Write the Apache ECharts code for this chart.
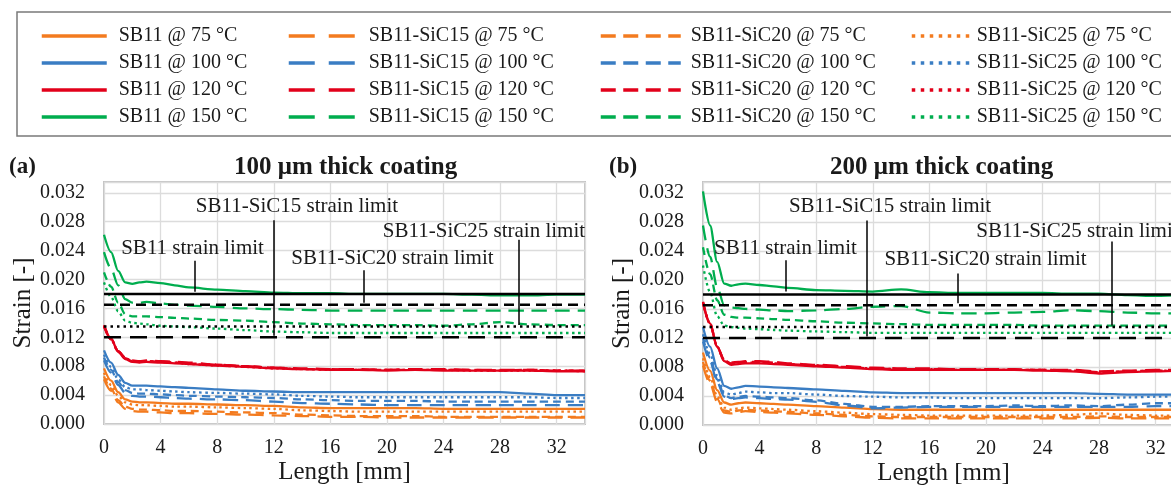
<!DOCTYPE html>
<html>
<head>
<meta charset="utf-8">
<script src="https://cdn.jsdelivr.net/npm/echarts@6/dist/echarts.min.js"></script>
<style>
  html, body { margin: 0; padding: 0; background: #fff; overflow: hidden; width: 1171px; height: 488px; }
  #chart { width: 1200px; height: 488px; }
</style>
</head>
<body>
<div id="chart"></div>
<script>
// Sampling positions along the coating length [mm]
const lengthsMm = [0, 0.5, 1, 1.5, 2, 2.5, 3, 4, 5, 6, 8, 10, 12, 14, 16, 18, 20, 22, 24, 26, 28, 30, 32, 34];

const temps = ['75 °C', '100 °C', '120 °C', '150 °C'];
const materials = ['SB11', 'SB11-SiC15', 'SB11-SiC20', 'SB11-SiC25'];

// Strain limits per material [-]
const limitValues = [0.018, 0.012, 0.0165, 0.0135];

// (a) 100 µm thick coating — strain [-]
const a_SB11_75  = [0.0077,0.0060,0.0044,0.0034,0.0031,0.0030,0.0030,0.0029,0.0028,0.0028,0.0027,0.0026,0.0025,0.0023,0.0022,0.0022,0.0022,0.0022,0.0021,0.0021,0.0021,0.0021,0.0021,0.0021];
const a_SB11_100 = [0.0102,0.0085,0.0068,0.0057,0.0053,0.0053,0.0053,0.0052,0.0051,0.0050,0.0048,0.0046,0.0045,0.0044,0.0044,0.0044,0.0044,0.0044,0.0044,0.0044,0.0044,0.0042,0.0040,0.0040];
const a_SB11_120 = [0.0137,0.0118,0.0100,0.0090,0.0086,0.0085,0.0086,0.0085,0.0084,0.0083,0.0081,0.0079,0.0077,0.0076,0.0075,0.0075,0.0074,0.0075,0.0074,0.0074,0.0074,0.0074,0.0073,0.0073];
const a_SB11_150 = [0.0262,0.0238,0.0212,0.0196,0.0194,0.0196,0.0197,0.0195,0.0192,0.0189,0.0186,0.0184,0.0182,0.0181,0.0181,0.0180,0.0180,0.0180,0.0180,0.0179,0.0178,0.0178,0.0179,0.0179];

const a_SiC15_75  = [0.0062,0.0046,0.0030,0.0021,0.0018,0.0017,0.0017,0.0016,0.0015,0.0015,0.0014,0.0013,0.0012,0.0011,0.0010,0.0010,0.0009,0.0009,0.0009,0.0009,0.0009,0.0009,0.0009,0.0009];
const a_SiC15_100 = [0.0088,0.0071,0.0054,0.0043,0.0039,0.0038,0.0038,0.0037,0.0036,0.0035,0.0034,0.0033,0.0031,0.0029,0.0028,0.0027,0.0026,0.0026,0.0026,0.0026,0.0026,0.0026,0.0026,0.0026];
const a_SiC15_120 = [0.0135,0.0117,0.0101,0.0092,0.0088,0.0087,0.0088,0.0087,0.0086,0.0085,0.0082,0.0080,0.0078,0.0077,0.0076,0.0076,0.0075,0.0076,0.0076,0.0075,0.0075,0.0075,0.0074,0.0074];
const a_SiC15_150 = [0.0238,0.0215,0.0192,0.0173,0.0168,0.0168,0.0169,0.0167,0.0165,0.0164,0.0162,0.0160,0.0159,0.0158,0.0157,0.0157,0.0157,0.0157,0.0157,0.0157,0.0157,0.0157,0.0157,0.0157];

const a_SiC20_75  = [0.0066,0.0049,0.0033,0.0024,0.0021,0.0020,0.0020,0.0019,0.0018,0.0018,0.0017,0.0016,0.0015,0.0013,0.0012,0.0011,0.0011,0.0011,0.0010,0.0010,0.0010,0.0010,0.0010,0.0010];
const a_SiC20_100 = [0.0092,0.0075,0.0058,0.0047,0.0043,0.0042,0.0042,0.0041,0.0040,0.0039,0.0038,0.0037,0.0036,0.0034,0.0033,0.0032,0.0032,0.0032,0.0031,0.0031,0.0031,0.0031,0.0031,0.0031];
const a_SiC20_120 = [0.0136,0.0118,0.0101,0.0091,0.0087,0.0086,0.0087,0.0086,0.0085,0.0084,0.0082,0.0080,0.0078,0.0076,0.0076,0.0075,0.0075,0.0075,0.0075,0.0075,0.0074,0.0075,0.0074,0.0074];
const a_SiC20_150 = [0.0210,0.0190,0.0168,0.0152,0.0149,0.0149,0.0149,0.0148,0.0147,0.0146,0.0144,0.0143,0.0141,0.0139,0.0138,0.0137,0.0137,0.0137,0.0136,0.0138,0.0141,0.0138,0.0137,0.0137];

const a_SiC25_75  = [0.0071,0.0054,0.0039,0.0030,0.0027,0.0026,0.0026,0.0025,0.0024,0.0024,0.0023,0.0022,0.0021,0.0019,0.0018,0.0017,0.0017,0.0017,0.0017,0.0017,0.0017,0.0017,0.0017,0.0017];
const a_SiC25_100 = [0.0096,0.0079,0.0062,0.0051,0.0048,0.0048,0.0047,0.0046,0.0045,0.0044,0.0043,0.0042,0.0041,0.0039,0.0038,0.0037,0.0037,0.0037,0.0037,0.0037,0.0037,0.0037,0.0036,0.0036];
const a_SiC25_120 = [0.0136,0.0117,0.0100,0.0091,0.0087,0.0086,0.0087,0.0086,0.0085,0.0083,0.0081,0.0079,0.0077,0.0076,0.0075,0.0075,0.0075,0.0075,0.0075,0.0074,0.0074,0.0074,0.0074,0.0073];
const a_SiC25_150 = [0.0196,0.0176,0.0156,0.0143,0.0140,0.0139,0.0138,0.0136,0.0135,0.0134,0.0132,0.0130,0.0128,0.0127,0.0126,0.0126,0.0126,0.0126,0.0126,0.0126,0.0126,0.0126,0.0126,0.0126];

// (b) 200 µm thick coating — strain [-]
const b_SB11_75  = [0.0100,0.0075,0.0048,0.0031,0.0028,0.0030,0.0031,0.0030,0.0029,0.0028,0.0026,0.0024,0.0022,0.0021,0.0021,0.0021,0.0021,0.0021,0.0021,0.0021,0.0021,0.0021,0.0021,0.0021];
const b_SB11_100 = [0.0135,0.0108,0.0078,0.0054,0.0050,0.0052,0.0054,0.0053,0.0052,0.0051,0.0049,0.0047,0.0045,0.0044,0.0044,0.0044,0.0044,0.0044,0.0044,0.0044,0.0043,0.0042,0.0042,0.0042];
const b_SB11_120 = [0.0170,0.0140,0.0108,0.0088,0.0083,0.0084,0.0085,0.0085,0.0084,0.0083,0.0081,0.0079,0.0077,0.0076,0.0076,0.0076,0.0076,0.0076,0.0075,0.0074,0.0071,0.0073,0.0074,0.0075];
const b_SB11_150 = [0.0322,0.0275,0.0225,0.0195,0.0192,0.0194,0.0195,0.0193,0.0191,0.0189,0.0186,0.0185,0.0184,0.0187,0.0183,0.0182,0.0182,0.0182,0.0182,0.0181,0.0181,0.0179,0.0178,0.0179];

const b_SiC15_75  = [0.0082,0.0057,0.0032,0.0017,0.0016,0.0018,0.0019,0.0018,0.0017,0.0016,0.0014,0.0012,0.0010,0.0009,0.0009,0.0009,0.0009,0.0009,0.0009,0.0009,0.0010,0.0009,0.0009,0.0009];
const b_SiC15_100 = [0.0115,0.0088,0.0059,0.0039,0.0036,0.0037,0.0038,0.0037,0.0036,0.0035,0.0032,0.0027,0.0023,0.0024,0.0025,0.0025,0.0025,0.0025,0.0025,0.0025,0.0025,0.0025,0.0026,0.0026];
const b_SiC15_120 = [0.0168,0.0139,0.0108,0.0090,0.0086,0.0087,0.0088,0.0088,0.0087,0.0085,0.0083,0.0081,0.0079,0.0078,0.0078,0.0077,0.0077,0.0077,0.0076,0.0076,0.0074,0.0075,0.0076,0.0076];
const b_SiC15_150 = [0.0275,0.0232,0.0190,0.0165,0.0162,0.0161,0.0160,0.0159,0.0158,0.0157,0.0158,0.0160,0.0163,0.0164,0.0155,0.0154,0.0154,0.0155,0.0156,0.0158,0.0157,0.0155,0.0154,0.0154];

const b_SiC20_75  = [0.0087,0.0061,0.0036,0.0020,0.0018,0.0020,0.0021,0.0020,0.0019,0.0018,0.0016,0.0014,0.0012,0.0011,0.0011,0.0011,0.0011,0.0011,0.0011,0.0011,0.0012,0.0011,0.0011,0.0011];
const b_SiC20_100 = [0.0120,0.0093,0.0063,0.0041,0.0037,0.0039,0.0040,0.0039,0.0038,0.0037,0.0034,0.0029,0.0025,0.0025,0.0026,0.0026,0.0026,0.0027,0.0026,0.0027,0.0026,0.0028,0.0030,0.0030];
const b_SiC20_120 = [0.0169,0.0139,0.0108,0.0089,0.0085,0.0086,0.0087,0.0087,0.0086,0.0084,0.0082,0.0080,0.0078,0.0077,0.0077,0.0077,0.0076,0.0076,0.0076,0.0075,0.0073,0.0074,0.0075,0.0075];
const b_SiC20_150 = [0.0245,0.0208,0.0172,0.0152,0.0149,0.0148,0.0148,0.0147,0.0146,0.0145,0.0143,0.0141,0.0140,0.0139,0.0138,0.0138,0.0138,0.0138,0.0137,0.0137,0.0137,0.0137,0.0137,0.0137];

const b_SiC25_75  = [0.0092,0.0066,0.0040,0.0024,0.0021,0.0023,0.0024,0.0023,0.0022,0.0021,0.0019,0.0017,0.0015,0.0014,0.0013,0.0013,0.0013,0.0013,0.0013,0.0014,0.0016,0.0014,0.0013,0.0013];
const b_SiC25_100 = [0.0125,0.0098,0.0068,0.0045,0.0042,0.0044,0.0046,0.0045,0.0044,0.0044,0.0042,0.0040,0.0039,0.0038,0.0038,0.0037,0.0037,0.0037,0.0037,0.0037,0.0037,0.0038,0.0039,0.0039];
const b_SiC25_120 = [0.0169,0.0140,0.0108,0.0089,0.0084,0.0085,0.0086,0.0086,0.0085,0.0084,0.0082,0.0080,0.0078,0.0077,0.0077,0.0076,0.0076,0.0076,0.0076,0.0075,0.0072,0.0074,0.0075,0.0075];
const b_SiC25_150 = [0.0220,0.0183,0.0150,0.0137,0.0135,0.0134,0.0133,0.0132,0.0131,0.0130,0.0129,0.0128,0.0127,0.0127,0.0127,0.0127,0.0127,0.0127,0.0127,0.0127,0.0127,0.0127,0.0127,0.0127];

// tables indexed [material][temperature]
const panelA = [
  [a_SB11_75, a_SB11_100, a_SB11_120, a_SB11_150],
  [a_SiC15_75, a_SiC15_100, a_SiC15_120, a_SiC15_150],
  [a_SiC20_75, a_SiC20_100, a_SiC20_120, a_SiC20_150],
  [a_SiC25_75, a_SiC25_100, a_SiC25_120, a_SiC25_150]
];
const panelB = [
  [b_SB11_75, b_SB11_100, b_SB11_120, b_SB11_150],
  [b_SiC15_75, b_SiC15_100, b_SiC15_120, b_SiC15_150],
  [b_SiC20_75, b_SiC20_100, b_SiC20_120, b_SiC20_150],
  [b_SiC25_75, b_SiC25_100, b_SiC25_120, b_SiC25_150]
];

// ---- styling ----
const FONT = "'Liberation Serif', 'Times New Roman', serif";
const INK = '#1a1a1a';
const tempColors = ['#F37B1F', '#3A7DC3', '#E2001A', '#00AD4E'];
const curveDash = ['solid', [15, 8], [8, 5], [2.5, 3.5]];
const limitDash = ['solid', [17, 9], [10, 6], [2.5, 4]];

// annotation placement: label centre [x, y] and arrow [x, yFrom, yTo] in data units
const annotations = [
  [ // (a)
    { label: [6.26, 0.02436], arrow: [6.38, 0.0226, 0.0183] },
    { label: [13.64, 0.03008], arrow: [12.0, 0.0282, 0.0122] },
    { label: [20.39, 0.02294], arrow: [18.37, 0.0213, 0.0168] },
    { label: [26.86, 0.02662], arrow: [29.3, 0.0255, 0.0137] }
  ],
  [ // (b)
    { label: [5.83, 0.0244], arrow: [5.88, 0.0227, 0.0184] },
    { label: [13.22, 0.0301], arrow: [11.6, 0.0282, 0.0122] },
    { label: [19.97, 0.02275], arrow: [18.0, 0.0209, 0.0168] },
    { label: [26.47, 0.02665], arrow: [28.9, 0.0253, 0.0137] }
  ]
];

const series = [];
[panelA, panelB].forEach((table, p) => {
  materials.forEach((mat, m) => {
    temps.forEach((t, k) => {
      series.push({
        name: `${mat} @ ${t}`,
        type: 'line',
        xAxisIndex: p,
        yAxisIndex: p,
        data: lengthsMm.map((x, i) => [x, table[m][k][i]]),
        symbol: 'none',
        smooth: 0.3,
        smoothMonotone: 'x',
        lineStyle: { color: tempColors[k], width: 2.3, type: curveDash[m] },
        itemStyle: { color: tempColors[k] },
        silent: true,
        z: 2
      });
    });
  });
  materials.forEach((mat, m) => {
    const a = annotations[p][m];
    series.push({
      name: `${mat} strain limit`,
      type: 'line',
      xAxisIndex: p,
      yAxisIndex: p,
      data: [[0, limitValues[m]], [34, limitValues[m]]],
      symbol: 'none',
      lineStyle: { color: '#000', width: 2.4, type: limitDash[m] },
      itemStyle: { color: '#000' },
      silent: true,
      z: 3,
      markLine: {
        silent: true,
        animation: false,
        symbol: ['none', 'arrow'],
        symbolSize: [0, 8],
        label: { show: false },
        lineStyle: { color: '#000', width: 1.5, type: 'solid' },
        data: [[{ coord: [a.arrow[0], a.arrow[1]] }, { coord: [a.arrow[0], a.arrow[2]] }]]
      },
      markPoint: {
        silent: true,
        animation: false,
        symbol: 'rect',
        symbolSize: 1,
        itemStyle: { color: 'rgba(0,0,0,0)' },
        label: {
          show: true, position: 'inside', formatter: '{b}',
          fontFamily: FONT, fontSize: 21, color: INK
        },
        data: [{ name: `${mat} strain limit`, coord: a.label }]
      }
    });
  });
});

const legendLeft = [40, 287, 599, 910];
const legendIconW = [65, 67, 80, 58];
const legendTextPad = [7, 8, 5, 2];
const legendDash = ['solid', [26, 14], [15, 7.5], [3.5, 5.5]];

const legends = materials.map((mat, m) => ({
  data: temps.map(t => `${mat} @ ${t}`),
  orient: 'vertical',
  left: legendLeft[m],
  top: 26,
  padding: 0,
  itemWidth: legendIconW[m],
  itemHeight: 14,
  itemGap: 7,
  selectedMode: false,
  itemStyle: { opacity: 0 },
  lineStyle: { width: 3.5, type: legendDash[m] },
  textStyle: { fontFamily: FONT, fontSize: 20, color: INK, lineHeight: 20, padding: [0, 0, 0, legendTextPad[m]] }
}));

const grids = [
  { left: 104, top: 182, width: 481, height: 242 },
  { left: 703, top: 182, width: 481, height: 243 }
].map(g => Object.assign(g, { show: true, borderColor: '#c4c4c4', borderWidth: 2, backgroundColor: 'transparent' }));

const xAxes = [0, 1].map(i => ({
  type: 'value', gridIndex: i, min: 0, max: 34, interval: 4,
  axisLine: { show: false }, axisTick: { show: false },
  splitLine: { show: true, lineStyle: { color: '#dcdcdc', width: 1.3 } },
  axisLabel: { fontFamily: FONT, fontSize: 20, color: INK, margin: 14, showMaxLabel: false },
  name: 'Length [mm]', nameLocation: 'middle', nameGap: 36,
  nameTextStyle: { fontFamily: FONT, fontSize: 25, color: INK }
}));

const yAxes = [0, 1].map(i => ({
  type: 'value', gridIndex: i, min: 0, max: 0.0335, interval: 0.004,
  axisLine: { show: false }, axisTick: { show: false },
  splitLine: { show: true, lineStyle: { color: '#dcdcdc', width: 1.3 } },
  axisLabel: { fontFamily: FONT, fontSize: 20, color: INK, margin: 19, showMaxLabel: false,
               formatter: v => v.toFixed(3) },
  name: 'Strain [-]', nameLocation: 'middle', nameGap: 67, nameRotate: 90,
  nameTextStyle: { fontFamily: FONT, fontSize: 25, color: INK }
}));

const titleStyle = size => ({ fontFamily: FONT, fontSize: size, fontWeight: 'bold', color: INK });

const chart = echarts.init(document.getElementById('chart'), null, { renderer: 'canvas' });
chart.setOption({
  animation: false,
  backgroundColor: '#fff',
  title: [
    { text: '(a)', left: 9, top: 156, padding: 0, textStyle: titleStyle(23) },
    { text: '100 μm thick coating', left: 234, top: 155, padding: 0, textStyle: titleStyle(25) },
    { text: '(b)', left: 609, top: 156, padding: 0, textStyle: titleStyle(23) },
    { text: '200 μm thick coating', left: 830, top: 155, padding: 0, textStyle: titleStyle(25) }
  ],
  legend: legends,
  grid: grids,
  xAxis: xAxes,
  yAxis: yAxes,
  graphic: [{
    type: 'rect', silent: true, z: 0,
    shape: { x: 17, y: 12, width: 1200, height: 124 },
    style: { fill: 'none', stroke: '#7a7a7a', lineWidth: 1.5 }
  }],
  series: series
});
</script>
</body>
</html>
